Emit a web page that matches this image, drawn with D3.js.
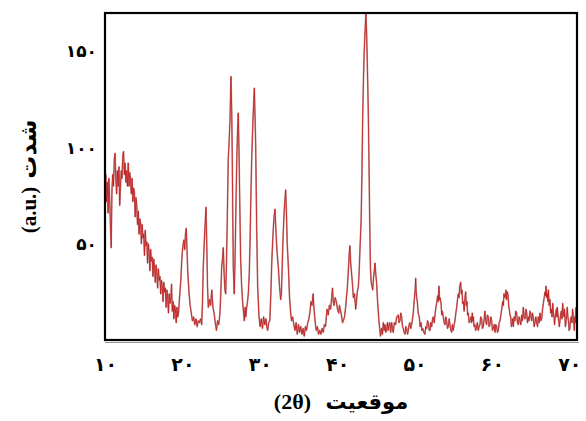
<!DOCTYPE html>
<html>
<head>
<meta charset="utf-8">
<script src="https://cdn.jsdelivr.net/npm/d3@7"></script>
<style>
  body { margin: 0; background: #fff; }
  svg { display: block; }
  .axis text { font-family: "DejaVu Sans", sans-serif; font-weight: bold; fill: #000; }
  .title { font-weight: bold; fill: #000; }
</style>
</head>
<body>
<svg id="chart" width="586" height="421"></svg>
<script>
// XRD pattern: [2theta, intensity]
let lowAngle = [
  [10.0,75],[10.1,86],[10.2,72],[10.3,82],[10.4,66],[10.5,84],[10.6,74],[10.7,60],[10.8,48],[10.9,78],
  [11.0,86],[11.1,80],[11.2,94],[11.3,97],[11.4,84],[11.5,76],[11.6,88],[11.7,80],[11.8,90],[11.9,70],
  [12.0,80],[12.1,88],[12.2,84],[12.3,96],[12.4,98],[12.5,86],[12.6,92],[12.7,82],[12.8,88],[12.9,80],
  [13.0,92],[13.1,80],[13.2,87],[13.3,83],[13.4,76],[13.5,84],[13.6,72],[13.7,79],[13.8,77],[13.9,64],
  [14.0,74],[14.1,70],[14.2,60],[14.3,67],[14.4,55],[14.5,63],[14.6,61],[14.7,50],[14.8,60],[14.9,53],
  [15.0,55],[15.1,44],[15.2,57],[15.3,49],[15.4,51],[15.5,40],[15.6,50],[15.7,46],[15.8,36],[15.9,47],
  [16.0,41],[16.1,43],[16.2,33],[16.3,42],[16.4,38],[16.5,30],[16.6,39],[16.7,35],[16.8,27],[16.9,37],
  [17.0,31],[17.1,33],[17.2,24],[17.3,31],[17.4,28],[17.5,20],[17.6,30],[17.7,25],[17.8,27],[17.9,17],
  [18.0,26],[18.1,22],[18.2,14],[18.3,24],[18.4,19],[18.5,21],[18.6,29],[18.7,15],[18.8,20],[18.9,11],
  [19.0,18],[19.1,16],[19.2,9],[19.3,17],[19.4,12],[19.5,14],[19.6,20],[19.7,26],[19.8,31],[19.9,40],
  [20.0,46],[20.1,50],[20.2,52],[20.3,47],[20.4,55],[20.5,58],[20.6,47],[20.7,35],[20.85,25],[21.0,18],
  [21.15,14],[21.3,10],[21.45,12],[21.6,8],[21.75,11],[21.9,7],[22.05,10]
];

let midAngle = [
  [22.2,9],[22.35,11],[22.5,8],[22.6,20],[22.7,38],[22.82,50],[22.92,59],[23.05,69],[23.15,50],[23.25,28],
  [23.35,17],[23.5,21],[23.65,18],[23.8,26],[23.95,17],[24.1,14],[24.25,9],[24.4,5],[24.55,10],[24.7,8],
  [24.86,14],[24.97,25],[25.08,38],[25.18,42],[25.29,48],[25.4,34],[25.5,26],[25.6,24],[25.7,40],[25.8,62],
  [25.93,94],[26.05,104],[26.15,114],[26.28,137],[26.38,118],[26.45,94],[26.52,62],[26.58,38],[26.7,24],[26.8,40],
  [26.88,59],[26.97,80],[27.05,97],[27.15,110],[27.22,118],[27.32,98],[27.4,76],[27.53,42],[27.66,28],[27.78,20],
  [27.87,16],[28.0,10],[28.1,17],[28.2,12],[28.31,17],[28.42,20],[28.52,24],[28.65,35],[28.75,52],[28.82,68],
  [28.96,94],[29.05,105],[29.12,114],[29.2,122],[29.3,131],[29.38,118],[29.47,102],[29.6,59],[29.73,28],[29.9,12],
  [30.05,7],[30.2,11],[30.35,6],[30.5,12],[30.65,8],[30.8,11],[30.9,7],[31.02,5],[31.15,9],[31.3,10],
  [31.45,26],[31.55,40],[31.6,45],[31.75,58],[31.85,64],[31.97,68],[32.1,56],[32.25,45],[32.4,38],[32.55,28],
  [32.7,21],[32.8,24],[32.9,38],[33.0,52],[33.1,62],[33.2,70],[33.35,78],[33.45,66],[33.55,50],[33.7,38],
  [33.85,22],[34.0,14],[34.1,10],[34.25,12],[34.4,8]
];

let highAngle = [
  [34.55,5],[34.7,9],[34.85,3],[35.0,8],[35.15,4],[35.3,7],[35.45,3],[35.6,6],[35.75,2],[35.9,7],
  [36.05,5],[36.2,9],[36.35,11],[36.5,15],[36.62,20],[36.75,18],[36.9,24],[37.0,17],[37.1,12],[37.2,8],
  [37.3,5],[37.45,7],[37.6,3],[37.75,5],[37.9,3],[38.05,6],[38.2,4],[38.35,8],[38.5,7],[38.6,12],
  [38.7,16],[38.85,13],[39.0,18],[39.15,16],[39.3,22],[39.4,27],[39.5,20],[39.6,18],[39.75,22],[39.9,20],
  [40.05,16],[40.2,14],[40.3,18],[40.4,16],[40.55,13],[40.7,9],[40.8,10],[40.95,12],[41.1,17],[41.2,22],
  [41.3,26],[41.45,36],[41.55,44],[41.65,49],[41.75,40],[41.9,33],[42.0,28],[42.1,22],[42.25,24],[42.4,16],
  [42.5,20],[42.6,25],[42.75,28],[42.85,36],[42.95,47],[43.1,62],[43.2,85],[43.3,115],[43.4,135],[43.5,150],
  [43.6,160],[43.72,170],[43.82,158],[43.92,140],[44.02,120],[44.12,92],[44.2,65],[44.3,38],[44.4,30],[44.5,28],
  [44.6,26],[44.7,32],[44.8,36],[44.9,40],[45.0,34],[45.1,30],[45.2,22],[45.3,16],[45.4,10],[45.5,6],
  [45.6,2],[45.75,6],[45.85,3],[45.97,9],[46.08,5],[46.18,8],[46.3,4],[46.4,5],[46.5,9],[46.6,5],
  [46.7,8],[46.8,9],[46.92,4],[47.05,9],[47.15,6],[47.25,4],[47.4,9],[47.56,8],[47.7,12],[47.9,13],
  [48.0,9],[48.12,10],[48.22,14],[48.34,12],[48.45,7],[48.55,6],[48.66,4],[48.77,3],[48.88,7],[48.98,6],
  [49.1,3],[49.2,5],[49.3,8],[49.4,9],[49.52,6],[49.63,8],[49.74,11],[49.84,14],[49.97,21],[50.08,26],
  [50.15,32],[50.22,25],[50.28,22],[50.36,20],[50.48,14],[50.62,12],[50.72,7],[50.84,9],[50.95,5],[51.06,6],
  [51.2,4],[51.35,3],[51.46,7],[51.57,6],[51.68,10],[51.78,9],[51.9,5],[52.0,5],[52.1,9],[52.22,7],
  [52.33,11],[52.43,12],[52.54,9],[52.65,13],[52.76,17],[52.86,19],[52.99,23],[53.08,20],[53.16,28],[53.24,21],
  [53.3,22],[53.43,19],[53.52,13],[53.6,15],[53.72,12],[53.83,9],[53.94,8],[54.05,12],[54.15,10],[54.26,6],
  [54.37,7],[54.48,11],[54.58,8],[54.7,5],[54.8,4],[54.9,8],[55.0,5],[55.12,8],[55.23,10],[55.34,14],
  [55.45,17],[55.56,21],[55.66,24],[55.76,22],[55.84,28],[55.97,30],[56.06,24],[56.14,26],[56.22,19],[56.31,20],
  [56.42,15],[56.52,22],[56.61,25],[56.7,18],[56.78,20],[56.86,13],[56.95,14],[57.06,9],[57.17,10],[57.3,12],
  [57.38,9],[57.47,14],[57.54,10],[57.6,12],[57.7,7],[57.8,8],[57.9,5],[58.0,6],[58.12,9],[58.24,5],
  [58.35,7],[58.46,8],[58.56,12],[58.67,11],[58.78,6],[58.89,7],[59.0,11],[59.1,15],[59.2,10],[59.32,8],
  [59.42,13],[59.53,12],[59.64,7],[59.75,8],[59.86,12],[59.97,10],[60.08,5],[60.18,6],[60.3,8],[60.4,4],
  [60.5,8],[60.62,7],[60.72,4],[60.83,5],[60.94,9],[61.05,10],[61.16,13],[61.27,16],[61.4,20],[61.48,18],
  [61.56,24],[61.7,22],[61.82,26],[61.9,21],[62.0,25],[62.1,23],[62.18,17],[62.25,16],[62.34,13],[62.43,12],
  [62.52,7],[62.6,8],[62.68,11],[62.77,7],[62.88,12],[62.98,10],[63.08,15],[63.2,14],[63.3,9],[63.41,8],
  [63.52,12],[63.63,10],[63.74,8],[63.85,13],[63.95,10],[64.06,17],[64.16,12],[64.28,11],[64.4,16],[64.5,14],
  [64.6,9],[64.7,12],[64.8,10],[64.92,15],[65.02,13],[65.14,10],[65.24,14],[65.35,12],[65.46,7],[65.57,9],
  [65.68,12],[65.79,9],[65.9,7],[66.0,12],[66.1,9],[66.22,14],[66.33,10],[66.44,11],[66.55,16],[66.65,19],
  [66.76,22],[66.87,25],[66.94,23],[67.0,28],[67.08,22],[67.17,24],[67.24,20],[67.3,26],[67.4,18],[67.5,21],
  [67.6,14],[67.68,16],[67.78,12],[67.86,19],[67.95,14],[68.03,12],[68.1,8],[68.16,11],[68.25,14],[68.33,16],
  [68.4,12],[68.45,17],[68.55,13],[68.63,10],[68.72,7],[68.8,10],[68.88,13],[68.97,15],[69.06,11],[69.15,19],
  [69.24,14],[69.32,12],[69.38,16],[69.44,12],[69.5,7],[69.57,9],[69.66,13],[69.74,17],[69.82,12],[69.9,10],
  [69.98,5],[70.07,6],[70.15,10],[70.24,12],[70.34,9],[70.43,16],[70.52,12],[70.6,8],[70.66,5],[70.72,12],
  [70.78,9],[70.85,17]
];

let xTicks = [10, 20, 30, 40, 50, 60, 70];
let xTickLabels = ['۱۰', '۲۰', '۳۰', '۴۰', '۵۰', '۶۰', '۷۰'];
let yTicks = [50, 100, 150];
let yTickLabels = ['۵۰', '۱۰۰', '۱۵۰'];

let margin = { top: 13, right: 9, bottom: 81, left: 105 };
let width = 586 - margin.left - margin.right;
let height = 421 - margin.top - margin.bottom;

let svg = d3.select('#chart');
let g = svg.append('g').attr('transform', 'translate(' + margin.left + ',' + margin.top + ')');

let x = d3.scaleLinear().domain([10, 71]).range([0, width]);
let y = d3.scaleLinear().domain([0, 170]).range([height, 0]);

let scan = lowAngle.concat(midAngle, highAngle);

g.append('clipPath').attr('id', 'plotClip')
  .append('rect').attr('width', width).attr('height', height);

let line = d3.line()
  .x((d) => x(d[0]))
  .y((d) => y(d[1]));

let curve = g.append('g').attr('clip-path', 'url(#plotClip)');
curve.append('path')
  .datum(scan)
  .attr('fill', 'none')
  .attr('stroke', '#c79a9a')
  .attr('stroke-width', 1.7)
  .attr('stroke-linejoin', 'round')
  .attr('d', line);
curve.append('path')
  .datum(scan)
  .attr('fill', 'none')
  .attr('stroke', '#c01818')
  .attr('stroke-width', 0.8)
  .attr('stroke-linejoin', 'round')
  .attr('d', line);

// frame
g.append('line')
  .attr('x1', 0).attr('x2', width + 2)
  .attr('y1', height + 2.5).attr('y2', height + 2.5)
  .attr('stroke', '#9a9a9a').attr('stroke-width', 1);
g.append('rect')
  .attr('width', width).attr('height', height)
  .attr('fill', 'none')
  .attr('stroke', '#000')
  .attr('stroke-width', 2.2);

// axes (labels only)
let xAxis = d3.axisBottom(x)
  .tickValues(xTicks)
  .tickSize(0)
  .tickPadding(18)
  .tickFormat((d, i) => xTickLabels[i]);
let xAxisG = g.append('g').attr('class', 'axis').attr('transform', 'translate(0,' + height + ')').call(xAxis);
xAxisG.select('.domain').remove();
xAxisG.selectAll('text').style('font-size', '19px');

let yAxis = d3.axisLeft(y)
  .tickValues(yTicks)
  .tickSize(0)
  .tickPadding(8)
  .tickFormat((d, i) => yTickLabels[i]);
let yAxisG = g.append('g').attr('class', 'axis').call(yAxis);
yAxisG.select('.domain').remove();
yAxisG.selectAll('text').style('font-size', '17px');

// titles
let xTitle = svg.append('text')
  .attr('class', 'title')
  .attr('x', margin.left + width / 2)
  .attr('y', 409)
  .attr('text-anchor', 'middle');
xTitle.append('tspan').style('font-family', '"Liberation Serif", serif').style('font-size', '22px').text('(2θ)');
xTitle.append('tspan').style('font-family', '"DejaVu Sans", sans-serif').style('font-size', '21px').text('\u00a0 موقعیت');

let yTitle = svg.append('text')
  .attr('class', 'title')
  .attr('transform', 'translate(36,' + (margin.top + height / 2) + ') rotate(-90)')
  .attr('text-anchor', 'middle');
yTitle.append('tspan').style('font-family', '"Liberation Serif", serif').style('font-size', '21px').text('(a.u.)');
yTitle.append('tspan').style('font-family', '"DejaVu Sans", sans-serif').style('font-size', '23px').text(' شدت');
</script>
</body>
</html>
